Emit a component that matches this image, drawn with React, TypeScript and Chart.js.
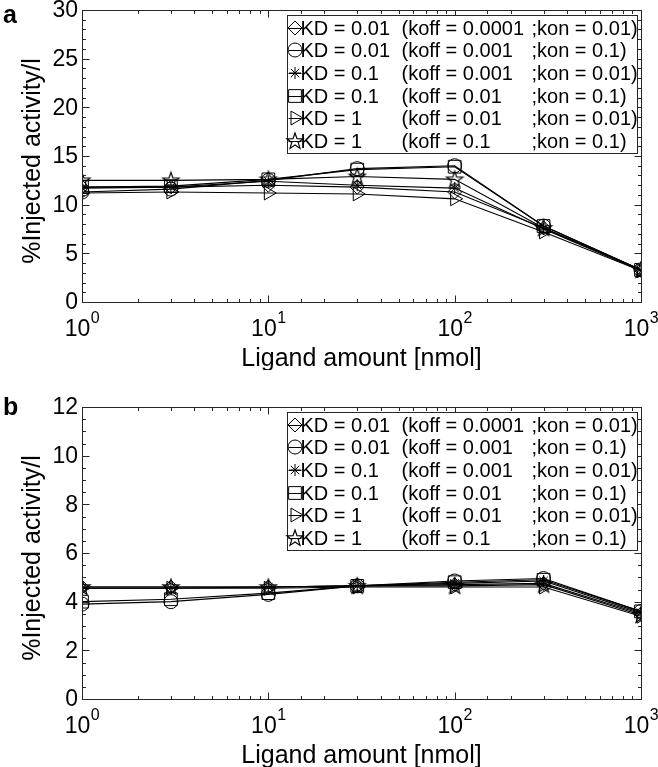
import React, { useEffect, useRef } from 'react';
import { Chart, registerables } from 'chart.js';
import { drawPoint } from 'chart.js/helpers';

Chart.register(...registerables);

// ---------------- data ----------------
const ligandAmounts = [1, 3, 10, 30, 100, 300, 1000];

const legendKD = ['KD = 0.01', 'KD = 0.01', 'KD = 0.1', 'KD = 0.1', 'KD = 1', 'KD = 1'];
const legendKoff = ['(koff = 0.0001', '(koff = 0.001', '(koff = 0.001', '(koff = 0.01', '(koff = 0.01', '(koff = 0.1'];
const legendKon = [';kon = 0.01)', ';kon = 0.1)', ';kon = 0.01)', ';kon = 0.1)', ';kon = 0.01)', ';kon = 0.1)'];

// panel a
const aDiamond = [11.8, 11.8, 12.0, 11.8, 11.3, 7.6, 3.3];
const aCircle = [11.3, 11.6, 12.5, 13.7, 14.0, 7.8, 3.3];
const aAsterisk = [11.7, 11.8, 12.4, 12.0, 11.7, 7.5, 3.2];
const aSquare = [11.8, 11.9, 12.6, 13.6, 13.9, 7.8, 3.3];
const aTriangle = [11.2, 11.3, 11.2, 11.1, 10.6, 7.2, 3.2];
const aPentagram = [12.5, 12.5, 12.6, 12.9, 12.6, 7.6, 3.3];

// panel b
const bDiamond = [4.6, 4.6, 4.6, 4.65, 4.7, 4.75, 3.5];
const bCircle = [3.9, 4.0, 4.3, 4.65, 4.85, 4.95, 3.6];
const bAsterisk = [4.55, 4.55, 4.6, 4.65, 4.75, 4.85, 3.55];
const bSquare = [4.0, 4.1, 4.35, 4.65, 4.8, 4.9, 3.6];
const bTriangle = [4.55, 4.55, 4.55, 4.6, 4.6, 4.6, 3.4];
const bPentagram = [4.6, 4.6, 4.6, 4.65, 4.65, 4.7, 3.45];

const aYMax = 30;
const aYStep = 5;
const bYMax = 12;
const bYStep = 2;

const xTitle = 'Ligand amount [nmol]';
const yTitle = '%Injected activity/l';

// ---------------- styles ----------------
const FONT = '"Liberation Sans", Arial, Helvetica, sans-serif';
const AXIS = '#262626';
const TEXT = '#000';
const W = 658;
const H = 370;

function makePentagram(): HTMLCanvasElement {
  const c = document.createElement('canvas');
  c.width = 20;
  c.height = 20;
  const g = c.getContext('2d')!;
  const cx = 10, cy = 10.5;
  const R = 8.5, r = 3.4;
  g.beginPath();
  for (let i = 0; i < 10; i++) {
    const ang = -Math.PI / 2 + (i * Math.PI) / 5;
    const rad = i % 2 === 0 ? R : r;
    const px = cx + rad * Math.cos(ang);
    const py = cy + rad * Math.sin(ang);
    if (i === 0) g.moveTo(px, py);
    else g.lineTo(px, py);
  }
  g.closePath();
  g.strokeStyle = '#000';
  g.lineWidth = 1.2;
  g.stroke();
  return c;
}

function markerStyles() {
  const star = makePentagram();
  return [
    { pointStyle: 'rectRot', pointRadius: 7, rotation: 0 },
    { pointStyle: 'circle', pointRadius: 7, rotation: 0 },
    { pointStyle: 'star', pointRadius: 6, rotation: 0 },
    { pointStyle: 'rect', pointRadius: 9, rotation: 0 },
    { pointStyle: 'triangle', pointRadius: 8, rotation: 90 },
    { pointStyle: star as any, pointRadius: 8, rotation: 0 },
  ];
}

function makePlugin(panelLabel: string, panelLabelY: number, yMinorDiv: number) {
  return {
    id: 'matlabAxes',
    afterDraw(chart: any) {
      const ctx: CanvasRenderingContext2D = chart.ctx;
      const { left, right, top, bottom } = chart.chartArea;
      const xs = chart.scales.x;
      const ys = chart.scales.y;
      const L = Math.round(left) + 0.5;
      const R = Math.round(right) + 0.5;
      const T = Math.round(top) + 0.5;
      const B = Math.round(bottom) + 0.5;
      ctx.save();

      // box
      ctx.strokeStyle = AXIS;
      ctx.lineWidth = 1;
      ctx.strokeRect(L, T, R - L, B - T);

      // x ticks (inward, bottom & top)
      ctx.beginPath();
      for (const t of xs.ticks) {
        const px = Math.round(xs.getPixelForValue(t.value)) + 0.5;
        const lg = Math.log10(t.value);
        const major = Math.abs(lg - Math.round(lg)) < 1e-9;
        const len = major ? 7 : 3.5;
        ctx.moveTo(px, B);
        ctx.lineTo(px, B - len);
        ctx.moveTo(px, T);
        ctx.lineTo(px, T + len);
      }
      // y ticks (inward, left & right)
      const yt = ys.ticks.map((t: any) => t.value);
      for (let i = 0; i < yt.length; i++) {
        const py = Math.round(ys.getPixelForValue(yt[i])) + 0.5;
        ctx.moveTo(L, py);
        ctx.lineTo(L + 7, py);
        ctx.moveTo(R, py);
        ctx.lineTo(R - 7, py);
        if (i < yt.length - 1) {
          const step = (yt[i + 1] - yt[i]) / yMinorDiv;
          for (let k = 1; k < yMinorDiv; k++) {
            const my = Math.round(ys.getPixelForValue(yt[i] + k * step)) + 0.5;
            ctx.moveTo(L, my);
            ctx.lineTo(L + 3.5, my);
            ctx.moveTo(R, my);
            ctx.lineTo(R - 3.5, my);
          }
        }
      }
      ctx.stroke();

      // y tick labels
      ctx.fillStyle = TEXT;
      ctx.font = `23px ${FONT}`;
      ctx.textAlign = 'right';
      ctx.textBaseline = 'middle';
      for (const v of yt) {
        ctx.fillText(String(v), left - 4, ys.getPixelForValue(v) + 1);
      }

      // x tick labels (10^n)
      ctx.textBaseline = 'alphabetic';
      ctx.textAlign = 'left';
      for (const t of xs.ticks) {
        const lg = Math.log10(t.value);
        if (Math.abs(lg - Math.round(lg)) > 1e-9) continue;
        const px = xs.getPixelForValue(t.value);
        ctx.font = `23px ${FONT}`;
        const wBase = ctx.measureText('10').width;
        ctx.font = `16px ${FONT}`;
        const expo = String(Math.round(lg));
        const wExp = ctx.measureText(expo).width;
        const x0 = px - (wBase + wExp) / 2;
        ctx.font = `23px ${FONT}`;
        ctx.fillText('10', x0, bottom + 34);
        ctx.font = `16px ${FONT}`;
        ctx.fillText(expo, x0 + wBase + 0.5, bottom + 21);
      }

      // axis titles
      ctx.font = `25px ${FONT}`;
      ctx.textAlign = 'center';
      ctx.textBaseline = 'middle';
      ctx.fillText(xTitle, (left + right) / 2, bottom + 57);
      ctx.save();
      ctx.translate(33, (top + bottom) / 2 + 5);
      ctx.rotate(-Math.PI / 2);
      ctx.fillText(yTitle, 0, 0);
      ctx.restore();

      // panel label
      ctx.font = `bold 25px ${FONT}`;
      ctx.textAlign = 'left';
      ctx.fillText(panelLabel, 3, panelLabelY);

      // legend
      const bx = Math.round(right) - 4 - 350 + 0.5;
      const by = Math.round(top) + 5 + 0.5;
      const bw = 350;
      const bh = 138;
      ctx.fillStyle = '#fff';
      ctx.fillRect(bx, by, bw, bh);
      ctx.strokeStyle = AXIS;
      ctx.lineWidth = 1;
      ctx.strokeRect(bx, by, bw, bh);
      const datasets = chart.data.datasets;
      ctx.font = `20px ${FONT}`;
      ctx.textAlign = 'left';
      ctx.textBaseline = 'middle';
      for (let i = 0; i < datasets.length; i++) {
        const ds = datasets[i];
        const cy = Math.round(by + 12 + i * 22.7);
        const mx = Math.round(bx + 7.5);
        ctx.strokeStyle = '#000';
        ctx.lineWidth = 1;
        ctx.beginPath();
        ctx.moveTo(bx + 1, cy + 0.5);
        ctx.lineTo(bx + 14, cy + 0.5);
        ctx.stroke();
        ctx.fillStyle = 'rgba(0,0,0,0)';
        drawPoint(ctx, {
          pointStyle: ds.pointStyle,
          rotation: ds.pointRotation || 0,
          radius: ds.pointRadius,
          borderWidth: 1,
        } as any, mx, cy);
        ctx.fillStyle = TEXT;
        ctx.fillText(legendKD[i], bx + 13, cy + 1);
        ctx.fillText(legendKoff[i], bx + 114, cy + 1);
        ctx.fillText(legendKon[i], bx + 244, cy + 1);
      }
      ctx.restore();
    },
  };
}

type PanelProps = {
  top: number;
  panelLabel: string;
  panelLabelY: number;
  yMax: number;
  yStep: number;
  yMinorDiv: number;
  series: number[][];
};

function Panel({ top, panelLabel, panelLabelY, yMax, yStep, yMinorDiv, series }: PanelProps) {
  const ref = useRef<HTMLCanvasElement>(null);
  useEffect(() => {
    const styles = markerStyles();
    const chart = new Chart(ref.current!, {
      type: 'line',
      data: {
        datasets: series.map((vals, i) => ({
          label: `${legendKD[i]} ${legendKoff[i]} ${legendKon[i]}`,
          data: ligandAmounts.map((x, j) => ({ x, y: vals[j] })),
          borderColor: '#000',
          borderWidth: 1.1,
          fill: false,
          tension: 0,
          pointStyle: styles[i].pointStyle as any,
          pointRadius: styles[i].pointRadius,
          pointRotation: styles[i].rotation,
          pointBorderColor: '#000',
          pointBorderWidth: 1,
          pointBackgroundColor: 'rgba(0,0,0,0)',
        })),
      },
      options: {
        responsive: false,
        animation: false,
        devicePixelRatio: 1,
        layout: { padding: { top: 8, right: W - 641, left: 0, bottom: 0 } },
        plugins: {
          legend: { display: false },
          tooltip: { enabled: false },
          title: { display: false },
        },
        scales: {
          x: {
            type: 'logarithmic',
            min: 1,
            max: 1000,
            ticks: { display: false },
            grid: { display: false, drawTicks: false },
            border: { display: false },
            afterFit: (s: any) => {
              s.height = H - 302;
            },
          },
          y: {
            type: 'linear',
            min: 0,
            max: yMax,
            ticks: { display: false, stepSize: yStep },
            grid: { display: false, drawTicks: false },
            border: { display: false },
            afterFit: (s: any) => {
              s.width = 82;
            },
          },
        },
      },
      plugins: [makePlugin(panelLabel, panelLabelY, yMinorDiv) as any],
    });
    return () => chart.destroy();
  }, []);
  return (
    <canvas
      ref={ref}
      width={W}
      height={H}
      style={{ position: 'absolute', left: 0, top, width: W, height: H }}
    />
  );
}

export default function App() {
  return (
    <div style={{ position: 'absolute', left: 0, top: 0, width: W, height: 767, overflow: 'hidden', background: '#fff' }}>
      <Panel
        top={0}
        panelLabel="a"
        panelLabelY={16}
        yMax={aYMax}
        yStep={aYStep}
        yMinorDiv={5}
        series={[aDiamond, aCircle, aAsterisk, aSquare, aTriangle, aPentagram]}
      />
      <Panel
        top={397}
        panelLabel="b"
        panelLabelY={11}
        yMax={bYMax}
        yStep={bYStep}
        yMinorDiv={4}
        series={[bDiamond, bCircle, bAsterisk, bSquare, bTriangle, bPentagram]}
      />
    </div>
  );
}
